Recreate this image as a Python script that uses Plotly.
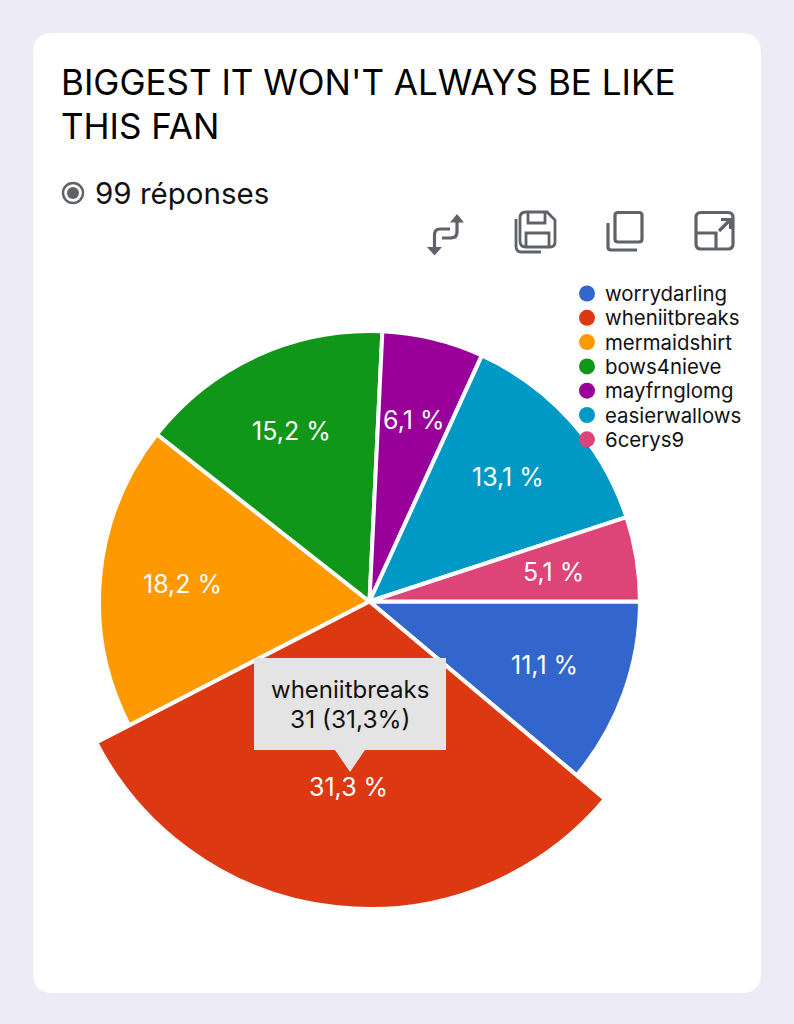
import math
import plotly.graph_objects as go

# ---- data ----
categories = ["worrydarling", "wheniitbreaks", "mermaidshirt", "bows4nieve", "mayfrnglomg", "easierwallows", "6cerys9"]
values = [11, 31, 18, 15, 6, 13, 5]
colors = ["#3366CC", "#DC3912", "#FF9900", "#109618", "#990099", "#0099C6", "#DD4477"]
title_lines = ["BIGGEST IT WON'T ALWAYS BE LIKE", "THIS FAN"]
subtitle = "99 réponses"
highlight = "wheniitbreaks"

# ---- style ----
W, H = 794, 1024
FONT = "Inter, 'Liberation Sans', sans-serif"
BG = "#EEEBF9"
GREY = "#5F6368"
CX, CY = 369.5, 601.5
R_NORMAL, R_BIG, R_LABEL = 270.5, 307.5, 187
LEG_X, LEG_Y, LEG_STEP = 587, 293.5, 24.3
total = sum(values)
hi = categories.index(highlight)


def domain(r):
    return dict(x=[(CX - r) / W, (CX + r) / W], y=[1 - (CY + r) / H, 1 - (CY - r) / H])


def pie(r, show):
    return go.Pie(
        labels=categories, values=values, sort=False, direction="clockwise", rotation=90,
        domain=domain(r), textinfo="none", hoverinfo="skip", showlegend=False,
        marker=dict(
            colors=[c if show(i) else "rgba(0,0,0,0)" for i, c in enumerate(colors)],
            line=dict(color="white", width=[4 if show(i) else 0 for i in range(len(values))]),
        ),
    )


fig = go.Figure()
fig.add_trace(go.Scatter(x=[None], y=[None], mode="markers", hoverinfo="skip", showlegend=False))
fig.add_trace(pie(R_NORMAL, lambda i: i != hi))
fig.add_trace(pie(R_BIG, lambda i: i == hi))

annotations = []


def text(x, y, s, size, color="#000000", anchor="left"):
    pad = 3 if anchor == "left" else 0
    annotations.append(dict(x=x - pad, y=y, xref="x", yref="y", text=s, showarrow=False, xanchor=anchor,
                            yanchor="middle", font=dict(family=FONT, size=size, color=color)))


text(62, 82, title_lines[0], 35)
text(62, 126, title_lines[1], 35)
text(96, 193, subtitle, 29.5, "#111111")

# percent labels, placed from the values
cum = 0
for v in values:
    mid = math.radians(90 + (cum + v / 2) / total * 360)
    cum += v
    lbl = f"{v / total * 100:.1f} %".replace(".", ",")
    text(CX + R_LABEL * math.sin(mid) - 0.5, CY - R_LABEL * math.cos(mid), lbl, 25, "white", "center")

# tooltip text
text(350, 689, highlight, 24, "#111111", "center")
text(350, 719, f"{values[hi]} ({values[hi] / total * 100:.1f}%)".replace(".", ","), 24.5, "#111111", "center")

shapes = []


def stroke(path, width=3.2):
    shapes.append(dict(type="path", path=path, xref="x", yref="y", layer="above",
                       line=dict(color=GREY, width=width), fillcolor="rgba(0,0,0,0)"))


def fill(path, color=GREY):
    shapes.append(dict(type="path", path=path, xref="x", yref="y", layer="above",
                       line=dict(width=0), fillcolor=color))


# card
r = 20
x0, y0, x1, y1 = 33, 33, 761, 993
shapes.append(dict(type="path", layer="below", xref="x", yref="y", fillcolor="white", line=dict(width=0),
                   path=f"M{x0+r},{y0} L{x1-r},{y0} Q{x1},{y0} {x1},{y0+r} L{x1},{y1-r} Q{x1},{y1} {x1-r},{y1} "
                        f"L{x0+r},{y1} Q{x0},{y1} {x0},{y1-r} L{x0},{y0+r} Q{x0},{y0} {x0+r},{y0} Z"))

# legend
for i, (name, c) in enumerate(zip(categories, colors)):
    ly = LEG_Y + i * LEG_STEP
    shapes.append(dict(type="circle", xref="x", yref="y", x0=LEG_X - 8, x1=LEG_X + 8, y0=ly - 8, y1=ly + 8,
                       layer="above", line=dict(width=0), fillcolor=c))
    text(606, ly, name, 20.4, "#111111")

# radio icon
shapes.append(dict(type="circle", xref="x", yref="y", x0=63, y0=183, x1=83, y1=203, layer="above",
                   line=dict(color=GREY, width=2.4), fillcolor="rgba(0,0,0,0)"))
shapes.append(dict(type="circle", xref="x", yref="y", x0=67, y0=187, x1=79, y1=199, layer="above",
                   line=dict(width=0), fillcolor=GREY))

# swap icon
stroke("M457,222 L457,232 Q457,238 451,238 L442,238")
stroke("M450,229 L440,229 Q434.5,229 434.5,235 L434.5,247")
fill("M457,214 L464,222.5 L450,222.5 Z")
fill("M434.5,255.5 L427,247 L442,247 Z")

# save icon
stroke("M526,212 L547,212 L555,220 L555,242 Q555,247 550,247 L526,247 Q520,247 520,241 L520,218 Q520,212 526,212 Z", 2.8)
stroke("M528,213 L528,223 L545,223 L545,213", 2.8)
stroke("M526,247 L526,233 L549,233 L549,247", 2.8)
stroke("M516,219 L516,246 Q516,252 521.5,252 L541,252", 2.8)

# copy icon
stroke("M618,212.5 L639,212.5 Q642,212.5 642,215.5 L642,239 Q642,242 639,242 L618,242 Q615,242 615,239 L615,215.5 Q615,212.5 618,212.5 Z")
stroke("M608,223 L608,247 Q608,250 611,250 L637,250")

# expand icon
stroke("M701,212.5 L728,212.5 Q733,212.5 733,217.5 L733,244 Q733,249 728,249 L701,249 Q696,249 696,244 L696,217.5 Q696,212.5 701,212.5 Z")
stroke("M696,233 L716,233 L716,249")
stroke("M719,231 L729,221")
stroke("M721,219.5 L730.5,219.5 L730.5,229", 3)

# tooltip box
fill("M254,658 L446,658 L446,750 L365,750 L350,772 L335,750 L254,750 Z", "#E4E4E4")

fig.update_layout(
    width=W, height=H, margin=dict(l=0, r=0, t=0, b=0), autosize=False,
    paper_bgcolor=BG, plot_bgcolor="rgba(0,0,0,0)",
    xaxis=dict(range=[0, W], visible=False, fixedrange=True),
    yaxis=dict(range=[H, 0], visible=False, fixedrange=True),
    shapes=shapes, annotations=annotations, hovermode=False, showlegend=False,
)

fig.write_html(
    "out.html",
    config={"displayModeBar": False, "staticPlot": True},
    post_script="document.documentElement.style.background='%s';document.body.style.margin='0';document.body.style.overflow='hidden';" % BG,
)
